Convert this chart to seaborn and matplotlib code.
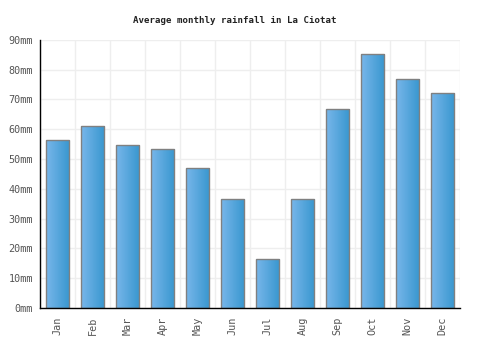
import numpy as np
import pandas as pd
import matplotlib
matplotlib.use('Agg')
import matplotlib.pyplot as plt
from matplotlib.colors import LinearSegmentedColormap
import seaborn as sns

months = ['Jan', 'Feb', 'Mar', 'Apr', 'May', 'Jun', 'Jul', 'Aug', 'Sep', 'Oct', 'Nov', 'Dec']
rainfall = [56.4, 61.0, 54.6, 53.4, 47.0, 36.7, 16.3, 36.5, 66.7, 85.2, 76.8, 72.1]
y_ticks = [0, 10, 20, 30, 40, 50, 60, 70, 80, 90]

df = pd.DataFrame({'month': months, 'rain': rainfall})

sns.set_style('white')
plt.rcParams['font.family'] = ['DejaVu Sans Mono']

fig = plt.figure(figsize=(5, 3.5), dpi=100)
ax = fig.add_axes([0.08, 0.12, 0.84, 0.766])

sns.barplot(data=df, x='month', y='rain', ax=ax, width=0.67,
            color='#4fa3dc', edgecolor='#808080', linewidth=1, zorder=3)

# gradient fill inside each bar
cmap = LinearSegmentedColormap.from_list('bar', ['#78b6ea', '#3897cf'])
grad = np.linspace(0, 1, 64).reshape(1, -1)
for p in ax.patches:
    x0, y0 = p.get_x(), p.get_y()
    w, h = p.get_width(), p.get_height()
    im = ax.imshow(grad, cmap=cmap, aspect='auto', extent=[x0, x0 + w, y0, y0 + h],
                   zorder=3.5, interpolation='bicubic')
    im.set_clip_path(p)
    p.set_facecolor('none')
    p.set_zorder(4)

ax.set_xlim(-0.5, 11.5)
ax.set_ylim(0, 90)
ax.set_yticks(y_ticks)
ax.set_yticklabels([f'{v}mm' for v in y_ticks])
ax.set_xticks(range(len(months)))
ax.set_xticklabels(months, rotation=90)
ax.set_xticks(np.arange(-0.5, 12, 1), minor=True)

ax.grid(True, axis='y', color='#eeeeee', linewidth=1, zorder=0)
ax.grid(True, axis='x', which='minor', color='#eeeeee', linewidth=1, zorder=0)
ax.grid(False, axis='x', which='major')

ax.tick_params(axis='both', which='both', length=0, labelsize=7.3, labelcolor='#555555')
ax.tick_params(axis='y', pad=5)
ax.tick_params(axis='x', pad=6)

for s in ['top', 'right']:
    ax.spines[s].set_visible(False)
for s in ['left', 'bottom']:
    ax.spines[s].set_color('black')
    ax.spines[s].set_linewidth(1)
    ax.spines[s].set_zorder(5)

ax.set_xlabel('')
ax.set_ylabel('')
fig.suptitle('Average monthly rainfall in La Ciotat', x=0.47, y=0.955, fontsize=6.6,
             fontweight='bold', color='#222222')

fig.savefig('out.png', dpi=100)
